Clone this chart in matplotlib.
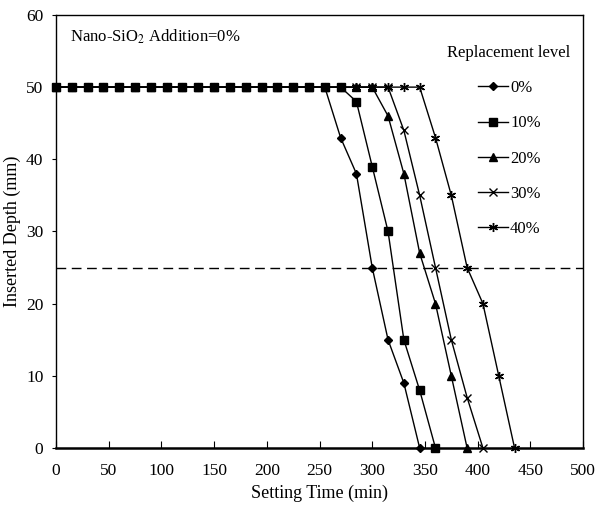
import matplotlib.pyplot as plt

plt.rcParams['font.family'] = ['Liberation Serif', 'DejaVu Serif']
plt.rcParams['mathtext.fontset'] = 'stix'

# 数据：时间 (min) 与插入深度 (mm)
flat_time = list(range(0, 256, 15))
t0 = flat_time + [270, 285, 300, 315, 330, 345]
d0 = [50] * len(flat_time) + [43, 38, 25, 15, 9, 0]
t10 = flat_time + [270, 285, 300, 315, 330, 345, 360]
d10 = [50] * len(flat_time) + [50, 48, 39, 30, 15, 8, 0]
t20 = flat_time + [270, 285, 300, 315, 330, 345, 360, 375, 390]
d20 = [50] * len(flat_time) + [50, 50, 50, 46, 38, 27, 20, 10, 0]
t30 = flat_time + [270, 285, 300, 315, 330, 345, 360, 375, 390, 405]
d30 = [50] * len(flat_time) + [50, 50, 50, 50, 44, 35, 25, 15, 7, 0]
t40 = flat_time + [270, 285, 300, 315, 330, 345, 360, 375, 390, 405, 420, 435]
d40 = [50] * len(flat_time) + [50, 50, 50, 50, 50, 50, 43, 35, 25, 20, 10, 0]

labels = ['0%', '10%', '20%', '30%', '40%']
markers = ['D', 's', '^', 'x', (6, 2, 0)]
sizes = [4.2, 5.2, 5.5, 5.5, 6.5]
zorders = [3, 7, 6, 5, 4]
series = [(t0, d0), (t10, d10), (t20, d20), (t30, d30), (t40, d40)]

fig = plt.figure(figsize=(5.95, 5.15), dpi=100)
ax = fig.add_axes([0.094, 0.13, 0.886, 0.841])

handles = []
for (t, d), lab, m, s, z in zip(series, labels, markers, sizes, zorders):
    h, = ax.plot(t, d, color='black', linewidth=1.0, marker=m, markersize=s,
                 markeredgewidth=1.0, label=lab, clip_on=False, zorder=z)
    handles.append(h)

# 初凝线
ax.axhline(25, color='black', linestyle=(0, (7, 4)), linewidth=1.0)

ax.set_xlim(0, 500)
ax.set_ylim(0, 60)
ax.set_xticks(range(0, 501, 50))
ax.set_yticks(range(0, 61, 10))
ax.tick_params(axis='x', direction='in', length=5, labelsize=12.5, pad=11)
ax.tick_params(axis='y', direction='out', length=3, labelsize=12.5, pad=6)
for sp in ax.spines.values():
    sp.set_linewidth(1.0)
ax.spines['bottom'].set_linewidth(1.8)

ax.set_xlabel('Setting Time (min)', fontsize=13, labelpad=4)
ax.set_ylabel('Inserted Depth (mm)', fontsize=13)
ax.yaxis.set_label_coords(-0.066, 0.5)

ax.text(0.027, 0.949, 'Nano-SiO$_2$ Addition=0%', transform=ax.transAxes,
        fontsize=12, ha='left', va='center')

leg = ax.legend(handles=handles, loc='upper right', bbox_to_anchor=(1.005, 0.965),
                frameon=False, fontsize=12, title='Replacement level',
                title_fontsize=12, handlelength=1.8, labelspacing=1.15,
                handletextpad=0.15)
leg._legend_box.align = 'center'

plt.savefig('out.png', dpi=100)
